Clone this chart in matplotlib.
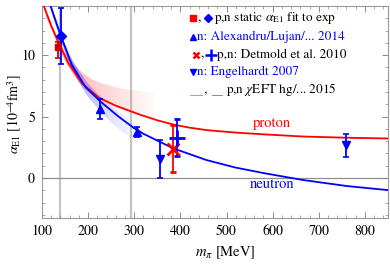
import numpy as np
import matplotlib
matplotlib.use("Agg")
from matplotlib import pyplot as plt
from matplotlib.patches import Polygon
from matplotlib.ticker import MultipleLocator

plt.rcParams['font.family'] = ['STIXGeneral', 'DejaVu Serif']
plt.rcParams['mathtext.fontset'] = 'stix'

# chiEFT curves (m_pi in MeV, alpha_E1 in 1e-4 fm^3)
m_prot = [100, 104, 120, 136, 158, 187, 223, 259, 295, 313, 350, 385, 420, 457, 520, 584, 666, 761, 850]
a_prot = [14.6, 14.0, 12.4, 11.0, 9.3, 7.7, 6.55, 5.9, 5.4, 5.15, 4.7, 4.35, 4.1, 3.9, 3.7, 3.55, 3.38, 3.28, 3.22]
m_neut = [110, 116, 141, 165, 194, 226, 266, 300, 320, 385, 457, 520, 584, 666, 761, 850]
a_neut = [15.0, 14.3, 11.55, 9.19, 7.42, 6.25, 5.0, 4.05, 3.6, 2.41, 1.46, 0.85, 0.38, -0.16, -0.65, -0.98]

# uncertainty bands
bp_m = [104, 110, 130, 150, 170, 190, 210, 230, 250, 270, 290, 310, 330, 345]
bp_lo = [13.9, 13.0, 11.3, 9.5, 8.3, 7.3, 6.7, 6.3, 5.9, 5.6, 5.3, 5.1, 4.9, 4.75]
bp_hi = [14.1, 13.3, 11.7, 10.2, 9.2, 8.5, 8.0, 7.7, 7.5, 7.3, 7.2, 7.1, 7.0, 7.0]
bn_m = [116, 120, 140, 160, 180, 200, 220, 240, 260, 280, 300, 315]
bn_lo = [14.2, 13.5, 11.3, 9.2, 7.8, 6.6, 5.7, 4.9, 4.2, 3.6, 3.1, 2.8]
bn_hi = [14.4, 13.9, 11.8, 10.0, 8.7, 7.7, 6.9, 6.2, 5.6, 5.0, 4.4, 4.1]

# data points
stat_p = (135, 10.7, 0.9, 0.4)
stat_n = (141, 11.55, 2.25)
alex_m = [226, 306]
alex_a = [5.6, 3.75]
alex_e = [0.8, 0.38]
eng_m = [356, 759]
eng_a = [1.55, 2.65]
eng_e = [1.55, 0.9]
det_p = (384, 2.4, 1.9)
det_n = (392, 3.3, 1.5)

gray_lines = [139.57, 292]

red = '#ff0000'
blue = '#0000ff'

fig = plt.figure(figsize=(3.9, 2.69), dpi=100)
ax = fig.add_axes([42/390, 1-218/269, 346/390, 212/269])


def band(m, lo, hi, color, a0, m_full, m_end):
    verts = list(zip(m, hi)) + list(zip(m[::-1], lo[::-1]))
    poly = Polygon(verts, closed=True, facecolor='none', edgecolor='none')
    ax.add_patch(poly)
    xs = np.linspace(m[0], m[-1], 300)
    alpha = np.clip((m_end - xs) / (m_end - m_full), 0, 1) ** 1.3 * a0
    rgb = matplotlib.colors.to_rgb(color)
    img = np.zeros((2, len(xs), 4))
    img[..., :3] = rgb
    img[..., 3] = alpha
    im = ax.imshow(img, extent=[m[0], m[-1], min(lo), max(hi)], aspect='auto',
                   origin='lower', zorder=1, interpolation='bilinear')
    im.set_clip_path(poly)


band(bp_m, bp_lo, bp_hi, '#ff4040', 0.45, 140, 365)
band(bn_m, bn_lo, bn_hi, '#4040ff', 0.5, 150, 325)

for g in gray_lines:
    ax.axvline(g, color='#c4c4c4', lw=1.6, zorder=0.5)
ax.axhline(0, color='#909090', lw=0.9, zorder=0.5)

ax.plot(m_prot, a_prot, color=red, lw=1.3, zorder=3)
ax.plot(m_neut, a_neut, color=blue, lw=1.3, zorder=3)

ax.errorbar(stat_p[0], stat_p[1], yerr=[[stat_p[2]], [stat_p[3]]], fmt='s', color='#cc0000',
            ms=5, capsize=2.5, elinewidth=1.3, capthick=1.2, zorder=5)
ax.errorbar(stat_n[0], stat_n[1], yerr=stat_n[2], fmt='D', color=blue,
            ms=5, capsize=2.5, elinewidth=1.3, capthick=1.2, zorder=5)
ax.errorbar(alex_m, alex_a, yerr=alex_e, fmt='^', color=blue,
            ms=5.5, capsize=2.5, elinewidth=1.3, capthick=1.2, zorder=5)
ax.errorbar(eng_m, eng_a, yerr=eng_e, fmt='v', color=blue,
            ms=5.5, capsize=2.5, elinewidth=1.3, capthick=1.2, zorder=5)
ax.errorbar(det_p[0], det_p[1], yerr=det_p[2], fmt='x', color=red,
            ms=9, mew=2, capsize=2.5, elinewidth=1.3, capthick=1.2, zorder=5)
ax.errorbar(det_n[0], det_n[1], yerr=det_n[2], fmt='+', color=blue,
            ms=11, mew=2, capsize=2.5, elinewidth=1.3, capthick=1.2, zorder=5)

ax.text(599, 4.47, 'proton', color=red, fontsize=10.5, ha='center', va='center')
ax.text(599, -0.49, 'neutron', color=blue, fontsize=10.5, ha='center', va='center')

# hand made legend (axes coords)
def ax_x(px):
    return (px - 42) / 346


def ax_y(py):
    return (218 - py) / 212


tr = ax.transAxes
fs = 9.5
r = [18, 37, 54.5, 72, 90]
ax.plot(ax_x(193), ax_y(r[0]), 's', color=red, ms=4.5, transform=tr, clip_on=False)
ax.text(ax_x(199), ax_y(r[0]), ',', fontsize=fs, transform=tr, va='center', ha='center')
ax.plot(ax_x(208), ax_y(r[0]), 'D', color=blue, ms=4, transform=tr)
ax.text(ax_x(214), ax_y(r[0]), r'p,n static $\alpha_{\rm E1}$ fit to exp', fontsize=fs,
        transform=tr, va='center')
ax.plot(ax_x(193), ax_y(r[1]), '^', color=blue, ms=5, transform=tr, clip_on=False)
ax.text(ax_x(197), ax_y(r[1]), 'n: Alexandru/Lujan/... 2014', color=blue, fontsize=fs,
        transform=tr, va='center')
ax.plot(ax_x(196), ax_y(r[2]), 'x', color=red, ms=5, mew=1.8, transform=tr)
ax.text(ax_x(202), ax_y(r[2]), ',', fontsize=fs, transform=tr, va='center', ha='center')
ax.plot(ax_x(211), ax_y(r[2]), '+', color=blue, ms=8, mew=1.8, transform=tr)
ax.text(ax_x(217), ax_y(r[2]), 'p,n: Detmold et al. 2010', fontsize=fs,
        transform=tr, va='center')
ax.plot(ax_x(192.5), ax_y(r[3]), 'v', color=blue, ms=5, transform=tr, clip_on=False)
ax.text(ax_x(197), ax_y(r[3]), 'n: Engelhardt 2007', color=blue, fontsize=fs,
        transform=tr, va='center')
ax.plot([ax_x(190), ax_x(202)], [ax_y(r[4] + 5)] * 2, color=red, lw=0.6, alpha=0.6,
        transform=tr, clip_on=False)
ax.text(ax_x(205), ax_y(r[4]), ',', fontsize=fs, transform=tr, va='center', ha='center')
ax.plot([ax_x(212), ax_x(222)], [ax_y(r[4] + 5)] * 2, color=blue, lw=0.6, alpha=0.6,
        transform=tr)
ax.text(ax_x(226), ax_y(r[4]), r'p,n $\chi$EFT hg/... 2015', fontsize=fs,
        transform=tr, va='center')

ax.set_xlim(100, 850)
ax.set_ylim(-3.25, 14)
ax.xaxis.set_major_locator(MultipleLocator(100))
ax.xaxis.set_minor_locator(MultipleLocator(20))
ax.yaxis.set_major_locator(MultipleLocator(5))
ax.yaxis.set_minor_locator(MultipleLocator(1))
ax.tick_params(which='both', direction='in', top=True, right=True, colors='#888888',
               labelcolor='black', labelsize=10)
ax.tick_params(which='major', length=4, width=0.7, pad=5)
ax.tick_params(which='minor', length=2, width=0.5)
for s in ax.spines.values():
    s.set_color('#999999')
    s.set_linewidth(0.8)

ax.text(0.53, -0.165, r'$m_\pi$ [MeV]', transform=tr, fontsize=10.5, ha='center', va='center')
ax.set_ylabel(r'$\alpha_{\rm E1}$ [10$^{-4}$fm$^3$]', fontsize=10)
ax.yaxis.set_label_coords(-0.052, 0.49)

fig.savefig('out.png', dpi=100)
